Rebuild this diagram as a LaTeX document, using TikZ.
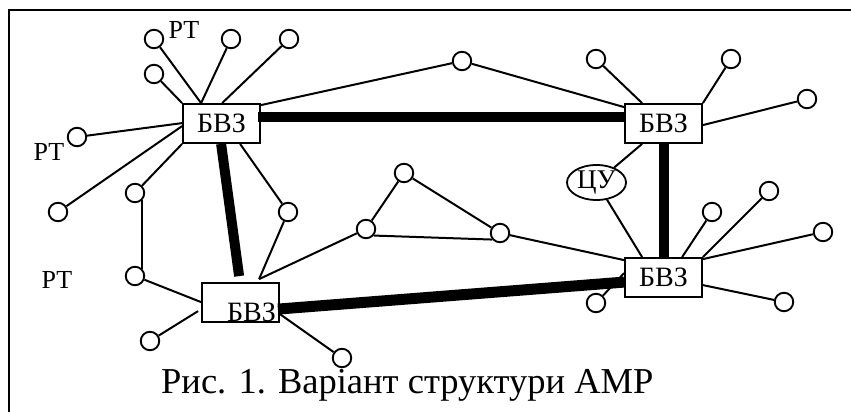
\documentclass[tikz,border=0pt]{standalone}
\usepackage{fontspec}
\setmainfont{Liberation Serif}
\usetikzlibrary{shapes.geometric,calc}
\begin{document}
\begin{tikzpicture}[x=1pt,y=-1pt,
  term/.style={circle,draw,fill=white,line width=1.9pt,minimum size=18.5pt,inner sep=0pt},
  unit/.style={draw,fill=white,line width=1.8pt,minimum width=77pt,minimum height=39pt,inner sep=0pt,font=\fontsize{28}{28}\selectfont},
  ctrl/.style={ellipse,draw,fill=white,line width=1.8pt,minimum width=59pt,minimum height=35pt,inner sep=0pt,font=\fontsize{27}{27}\selectfont},
  link/.style={line width=2pt},
  trunk/.style={line width=10pt},
  lbl/.style={font=\fontsize{26}{26}\selectfont,inner sep=0pt}]
\useasboundingbox (0,0) rectangle (851,412);

% frame (left and top edges)
\draw[line width=2pt] (9,412) -- (9,10) -- (851,10);

% switching units
\node[unit] (b1) at (221.5,123.5) {БВЗ};
\node[unit] (b2) at (663.5,123.5) {БВЗ};
\node[unit] (b3) at (663.5,277.5) {БВЗ};
\node[unit] (b4) at (240.5,302.5) {};

% control unit
\node[ctrl] (u) at (596.5,182.5) {ЦУ};

% terminals around the first unit
\node[term] (c1) at (154,39) {};
\node[term] (c2) at (231,39) {};
\node[term] (c3) at (289,39) {};
\node[term] (c4) at (154,74) {};
\node[term] (c5) at (77,137) {};
\node[term] (c6) at (58,212) {};
\node[term] (c7) at (135,193) {};
\node[term] (c8) at (288,212) {};
\node[term] (c9) at (135,276) {};
\node[term] (c10) at (150,341) {};
\node[term] (c11) at (342,358) {};
\node[term] (m) at (462,61) {};

% triangle of terminals
\node[term] (t1) at (404,173) {};
\node[term] (t2) at (366,229) {};
\node[term] (t3) at (500,233) {};

% terminals around the right-hand units
\node[term] (d1) at (596,59) {};
\node[term] (d2) at (731,59) {};
\node[term] (d3) at (807,99) {};
\node[term] (e1) at (712,212) {};
\node[term] (e2) at (769,191) {};
\node[term] (e3) at (823,232) {};
\node[term] (e4) at (784,302) {};
\node[term] (e5) at (596,303) {};

% labels
\node[lbl] (p1) at (184,30) {РТ};
\node[lbl] (p2) at (49,152) {РТ};
\node[lbl] (p3) at (57,280) {РТ};

% trunk lines between units
\draw[trunk] ($(b1.north east)+(-3,14)$) -- ($(b2.north west)+(0,14)$);
\draw[trunk] (b2.south) -- (b3.north);
\draw[trunk] ($(b1.south west)+(39,0)$) -- ($(b4.north west)+(38,-6)$);
\draw[trunk,line width=11pt] ($(b4.north east)+(-2,27)$) -- ($(b3.north west)+(0,25)$);

% lines of the first unit
\draw[link] (c1) -- ($(b1.north west)+(19,0)$);
\draw[link] (c2) -- ($(b1.north west)+(19,0)$);
\draw[link] (c3) -- ($(b1.north west)+(40,0)$);
\draw[link] (c4) -- (b1.north west);
\draw[link] (c5) -- ($(b1.north west)+(0,20)$);
\draw[link] (c6) -- ($(b1.north west)+(0,23)$);
\draw[link] (c7) -- (b1.south west);
\draw[link] (c8) -- ($(b1.south west)+(58,0)$);
\draw[link] (m) -- ($(b1.north east)+(0,2)$);
\draw[link] (c7.-45) -- (c9.45);

% lines of the second unit
\draw[link] (m) -- ($(b2.north west)+(0,4)$);
\draw[link] (d1) -- ($(b2.north west)+(18,0)$);
\draw[link] (d2) -- (b2.north east);
\draw[link] (d3) -- ($(b2.north east)+(0,22)$);
\draw[link] (u) -- ($(b2.south west)+(18,0)$);

% lines of the third unit
\draw[link] (u) -- ($(b3.north west)+(18,0)$);
\draw[link] (t3) -- ($(b3.north west)+(0,3)$);
\draw[link] (e1) -- ($(b3.north west)+(58,0)$);
\draw[link] (e2) -- (b3.north east);
\draw[link] (e3) -- ($(b3.north east)+(0,2)$);
\draw[link] (e4) -- ($(b3.north east)+(0,28)$);
\draw[link] (e5) -- ($(b3.north west)+(0,16)$);

% lines of the fourth unit
\draw[link] (c9) -- ($(b4.north west)+(0,20)$);
\draw[link] (c10) -- ($(b4.north west)+(-3,29)$);
\draw[link] (c11) -- ($(b4.north east)+(0,32)$);
\draw[link] (c8) -- ($(b4.north west)+(58,-3)$);
\draw[link] (t2) -- ($(b4.north west)+(58,-3)$);

% triangle
\draw[link] (t1) -- (t2);
\draw[link] (t1) -- (t3);
\draw[link] (t2.-40) -- (t3.220);

% label of the fourth unit, set low in its box
\node[anchor=base,inner sep=0pt,font=\fontsize{28}{28}\selectfont] (b4t) at (251.5,321) {БВЗ};

% caption
\node[anchor=base west,inner sep=0pt,font=\fontsize{36.5}{36.5}\selectfont] (cap) at (161,393) {Рис. 1. Варіант структури АМР};
\end{tikzpicture}
\end{document}
